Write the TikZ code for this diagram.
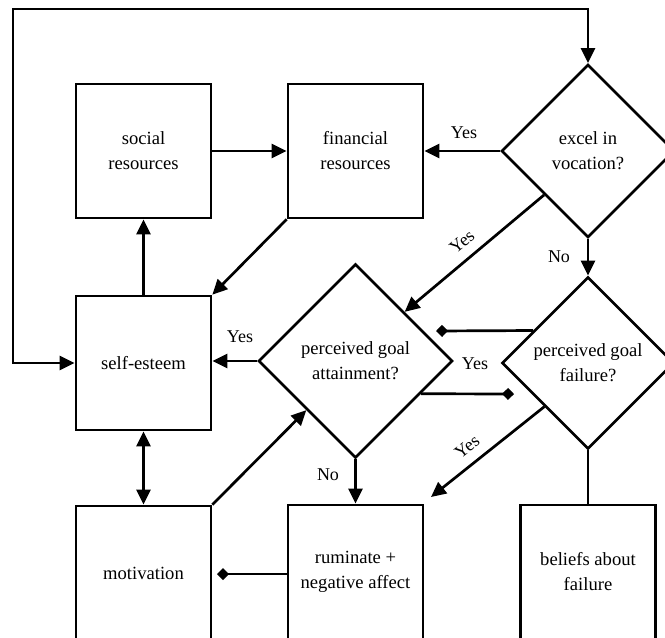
\documentclass[tikz,border=0pt]{standalone}
\usepackage{fontspec}
\setmainfont{Liberation Serif}
\usetikzlibrary{arrows.meta,shapes.geometric,calc}
\begin{document}
\begin{tikzpicture}[x=1pt,y=-1pt, line width=2.7pt,
  txt/.style={font=\fontsize{18.6}{25}\selectfont, align=center},
  box/.style={txt, draw, rectangle, minimum width=135pt, minimum height=134pt, inner sep=0pt},
  dia/.style={txt, draw, diamond, inner sep=0pt, minimum width=#1, minimum height=#1},
  arr/.style={-{Triangle[length=15pt,width=14pt]}},
  darr/.style={{Triangle[length=15pt,width=14pt]}-{Triangle[length=15pt,width=14pt]}},
  dtip/.style={-{Diamond[length=12pt,width=12pt]}},
  lbl/.style={font=\fontsize{18}{22}\selectfont, inner sep=0pt}]
\useasboundingbox (0,0) rectangle (665,638);
% nodes
\node[box] (soc) at (143.5,151) {social\\resources};
\node[box] (fin) at (355.5,151) {financial\\resources};
\node[dia=173pt] (exc) at (588,151) {excel in\\vocation?};
\node[box] (se) at (143.5,363) {self-esteem};
\node[dia=194pt] (att) at (355.5,361) {perceived goal\\attainment?};
\node[dia=172pt] (fail) at (588,363) {perceived goal\\failure?};
\node[box] (mot) at (143.5,573) {motivation};
\node[box] (rum) at (355.5,572) {ruminate +\\negative affect};
\node[box] (bel) at (588,572) {beliefs about\\failure};
% helper coordinates
\coordinate (lt) at (13,9);
\coordinate (yt) at (431,497);
\coordinate (d1) at (436,331);
\coordinate (d2) at (514,394);
\coordinate (d3) at (217,574);
% connectors
\draw[darr] (se.west) -| (lt) -| (exc.north);
\draw[arr] (soc.east) -- (fin.west);
\draw[arr] (exc.west) -- (fin.east);
\draw[arr] (exc.south west) -- (att.north east);
\draw[arr] (exc.south) -- (fail.north);
\draw[arr] (fin.south west) -- (se.north east);
\draw[arr] (se.north) -- (soc.south);
\draw[arr] (att.west) -- (att.west -| se.east);
\draw[darr] (se.south) -- (mot.north);
\draw[arr] (mot.north east) -- (att.south west);
\draw[arr] (att.south) -- (att.south |- rum.north);
\draw[arr] (fail.south west) -- (yt);
\draw (fail.south) -- (bel.north);
\draw[dtip] ($(fail.west)!0.372!(fail.north)$) -- (d1);
\draw[dtip] ($(att.east)!0.333!(att.south)$) -- (d2);
\draw[dtip] (rum.west |- d3) -- (d3);
% labels
\node[lbl] (l1) at (464,133) {Yes};
\node[lbl, rotate=40] (l2) at (462,242) {Yes};
\node[lbl] (l3) at (559,257) {No};
\node[lbl] (l4) at (240,337) {Yes};
\node[lbl] (l5) at (475,364) {Yes};
\node[lbl] (l6) at (328,475) {No};
\node[lbl, rotate=38] (l7) at (467,447) {Yes};
\end{tikzpicture}
\end{document}
